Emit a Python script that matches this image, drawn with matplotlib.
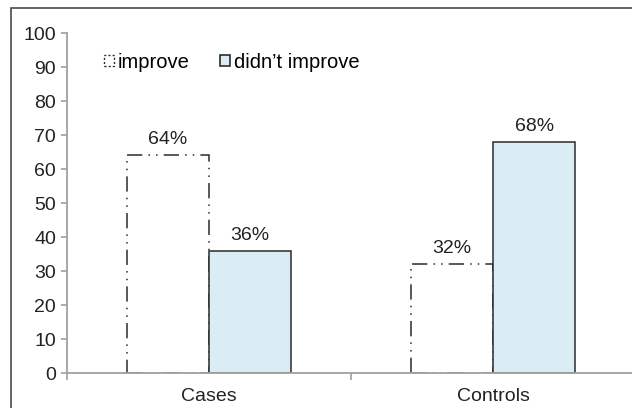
import matplotlib.pyplot as plt
from matplotlib.patches import Rectangle, Patch

plt.rcParams['font.family'] = ['Liberation Sans', 'DejaVu Sans']

groups = ['Cases', 'Controls']
improve = [64, 32]
not_improve = [36, 68]
series_names = ['improve', 'didn\u2019t improve']
yticks = [0, 10, 20, 30, 40, 50, 60, 70, 80, 90, 100]

blue = '#daedf4'
edge = '#2b2b2b'
axis_grey = '#a0a0a0'
dash_dot_dot = (0, (10, 4, 1, 4, 1, 4))
width = 0.29
fs = 14

fig = plt.figure(figsize=(6.32, 4.08), dpi=100)
ax = fig.add_axes([67 / 632, 1 - 373 / 408, 568 / 632, 340 / 408])

# outer frame, runs off the right and bottom of the figure
fig.patches.append(Rectangle((11 / 632, -0.1), 1.2, 1.1 - 8 / 408,
                             transform=fig.transFigure, fill=False,
                             edgecolor='#4a4a4a', linewidth=1.2, zorder=0))

x = list(range(len(groups)))
b1 = ax.bar([i - width / 2 for i in x], improve, width, color='white',
            edgecolor=edge, linewidth=1.1, linestyle=dash_dot_dot, zorder=2)
b2 = ax.bar([i + width / 2 for i in x], not_improve, width, color=blue,
            edgecolor=edge, linewidth=1.1, zorder=2)

for bars, vals in ((b1, improve), (b2, not_improve)):
    for rect, v in zip(bars, vals):
        ax.annotate('{}%'.format(v), (rect.get_x() + rect.get_width() / 2, v),
                    xytext=(0, 5), textcoords='offset points',
                    ha='center', va='bottom', fontsize=fs, color='#222222')

ax.set_xlim(-0.5, 1.5)
ax.set_ylim(0, 100)
ax.set_yticks(yticks)
ax.set_xticks(x)
ax.set_xticklabels(groups)
ax.set_xticks([-0.5, 0.5, 1.5], minor=True)
ax.tick_params(axis='x', which='major', length=0, pad=11, labelsize=fs,
               labelcolor='#222222')
ax.tick_params(axis='x', which='minor', length=5, color=axis_grey, width=1.2,
               direction='out')
ax.tick_params(axis='y', length=4, color=axis_grey, width=1.2, pad=4,
               labelsize=fs, labelcolor='#222222')
for s in ('top', 'right'):
    ax.spines[s].set_visible(False)
for s in ('left', 'bottom'):
    ax.spines[s].set_color(axis_grey)
    ax.spines[s].set_linewidth(1.3)
ax.spines['bottom'].set_zorder(3)
ax.set_facecolor('none')

handles = [Patch(facecolor='white', edgecolor=edge, linewidth=1.0,
                 linestyle=(0, (1.5, 1.5))),
           Patch(facecolor=blue, edgecolor=edge, linewidth=1.2)]
ax.legend(handles, series_names, loc='center left',
          bbox_to_anchor=(37 / 568, (373 - 62) / 340), ncol=2, frameon=False,
          handlelength=0.5, handleheight=0.5, handletextpad=0.2,
          columnspacing=1.5, borderpad=0, borderaxespad=0, fontsize=14.5)

fig.savefig('out.png', dpi=100)
